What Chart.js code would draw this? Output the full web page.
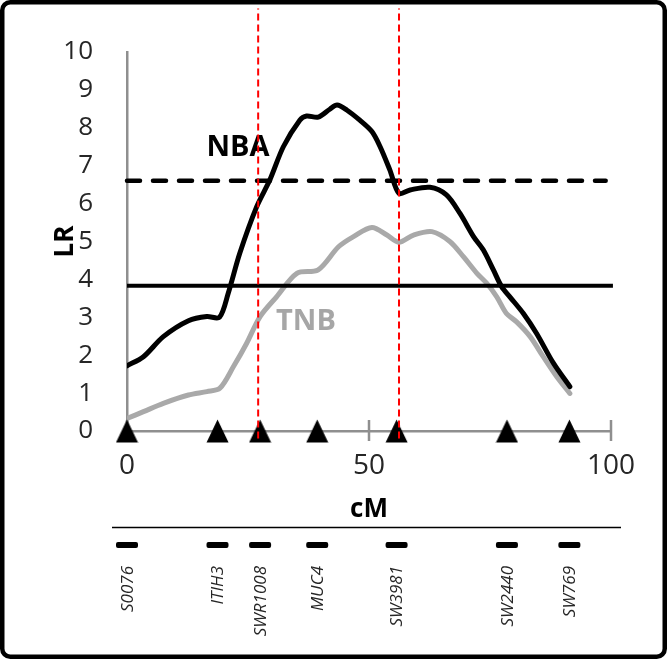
<!DOCTYPE html>
<html>
<head>
<meta charset="utf-8">
<script src="https://cdn.jsdelivr.net/npm/chart.js@4.4.1/dist/chart.umd.min.js"></script>
<style>
  html, body { margin: 0; padding: 0; background: #ffffff; }
  #wrap { position: relative; width: 667px; height: 659px; }
  canvas { display: block; }
</style>
</head>
<body>
<div id="wrap"><canvas id="c" width="667" height="659"></canvas></div>
<script>
// ---- data ----
const nbaCM = [0, 3.4, 7.5, 12.7, 16.5, 19.1, 20.9, 23.3, 26.8, 29.5, 32.3, 35.7, 37.1, 39.5, 41.9, 43.4, 45.4, 48.1, 50.6, 52.3, 54.3, 56.2, 58.5, 62.6, 66, 68.8, 71.6, 73.6, 75.7, 77.4, 79.1, 81.9, 84.6, 88.1, 91.5];
const nbaLR = [1.72, 1.96, 2.49, 2.91, 3.02, 3.0, 3.63, 4.69, 5.92, 6.62, 7.5, 8.2, 8.31, 8.28, 8.49, 8.6, 8.47, 8.2, 7.9, 7.5, 6.89, 6.27, 6.36, 6.43, 6.23, 5.74, 5.13, 4.78, 4.25, 3.81, 3.54, 3.1, 2.58, 1.79, 1.17];
const tnbCM = [0, 3.4, 7.5, 12.7, 16.5, 19.2, 22, 24.7, 27.5, 30.9, 35.1, 39.5, 43.7, 46.8, 50.6, 53.7, 56.2, 59.2, 63, 66.7, 69.5, 72.3, 74.3, 76.4, 78.4, 80.5, 83.3, 86, 88.8, 91.5];
const tnbLR = [0.33, 0.51, 0.73, 0.95, 1.04, 1.13, 1.7, 2.31, 3.02, 3.54, 4.16, 4.25, 4.86, 5.13, 5.37, 5.17, 4.98, 5.17, 5.26, 5.0, 4.6, 4.16, 3.9, 3.54, 3.1, 2.88, 2.49, 1.96, 1.43, 0.99];
const markerNames = ['S0076', 'ITIH3', 'SWR1008', 'MUC4', 'SW3981', 'SW2440', 'SW769'];
const markerCM = [0, 18.7, 27.5, 39.3, 55.7, 78.5, 91.4];
const thresholdDashed = 6.6;   // upper (dashed) threshold
const thresholdSolid = 3.83;   // lower (solid) threshold
const thresholdDashedEnd = 98.9;
const thresholdSolidEnd = 100.4;
const redLinesCM = [27.1, 56.2];
const xTicks = [0, 50, 100];
const yTicks = [0, 1, 2, 3, 4, 5, 6, 7, 8, 9, 10];
const seriesLabels = ['NBA', 'TNB'];

const FONT = "'Open Sans', 'DejaVu Sans', sans-serif";
const AXIS_GREY = '#8f8f8f';

// triangle marker image
const tri = document.createElement('canvas');
tri.width = 23; tri.height = 24;
(function () {
  const t = tri.getContext('2d');
  t.fillStyle = '#000';
  t.beginPath();
  t.moveTo(11.5, 0.5); t.lineTo(22.5, 23.5); t.lineTo(0.5, 23.5); t.closePath();
  t.fill();
})();

const zip = (xs, ys) => xs.map((x, i) => ({ x: x, y: ys[i] }));

const datasets = [];
redLinesCM.forEach(v => datasets.push({
  data: [{ x: v, y: -0.2 }, { x: v, y: 11.15 }],
  showLine: true, borderColor: '#ff0000', borderWidth: 2, borderDash: [7, 4],
  pointRadius: 0, clip: false, order: 0
}));
datasets.push({
  data: markerCM.map(x => ({ x: x, y: 0 })),
  showLine: false, pointStyle: tri, pointRadius: 11, clip: false, order: 1
});
datasets.push({
  data: [{ x: 0, y: thresholdDashed }, { x: thresholdDashedEnd, y: thresholdDashed }],
  showLine: true, borderColor: '#000', borderWidth: 4.5, borderDash: [13, 13],
  borderCapStyle: 'round', pointRadius: 0, clip: false, order: 2
});
datasets.push({
  data: [{ x: 0, y: thresholdSolid }, { x: thresholdSolidEnd, y: thresholdSolid }],
  showLine: true, borderColor: '#000', borderWidth: 4, pointRadius: 0, clip: false, order: 2
});
datasets.push({
  label: seriesLabels[0], data: zip(nbaCM, nbaLR),
  showLine: true, borderColor: '#000', borderWidth: 5, tension: 0.3,
  borderJoinStyle: 'round', borderCapStyle: 'round', pointRadius: 0, order: 3
});
datasets.push({
  label: seriesLabels[1], data: zip(tnbCM, tnbLR),
  showLine: true, borderColor: '#a9a9a9', borderWidth: 5, tension: 0.3,
  borderJoinStyle: 'round', borderCapStyle: 'round', pointRadius: 0, order: 4
});

const decor = {
  id: 'decor',
  beforeDraw(chart) {
    const ctx = chart.ctx;
    ctx.save();
    ctx.fillStyle = '#fff';
    ctx.fillRect(0, 0, chart.width, chart.height);
    ctx.restore();
  },
  beforeDatasetsDraw(chart) {
    const ctx = chart.ctx, xs = chart.scales.x, ca = chart.chartArea;
    ctx.save();
    ctx.strokeStyle = AXIS_GREY; ctx.lineWidth = 2.5;
    xTicks.forEach(v => {
      const px = Math.round(xs.getPixelForValue(v));
      ctx.beginPath(); ctx.moveTo(px, ca.bottom - 11); ctx.lineTo(px, ca.bottom + 10); ctx.stroke();
    });
    // series labels
    ctx.font = "bold 29px " + FONT;
    ctx.textAlign = 'center'; ctx.textBaseline = 'middle';
    ctx.fillStyle = '#000';
    ctx.fillText(seriesLabels[0], 238, 148);
    ctx.fillStyle = '#a6a6a6';
    ctx.fillText(seriesLabels[1], 306, 322);
    ctx.restore();
  },
  afterDraw(chart) {
    const ctx = chart.ctx, xs = chart.scales.x;
    ctx.save();
    // bottom marker map
    ctx.strokeStyle = '#000'; ctx.lineWidth = 1.5;
    ctx.beginPath(); ctx.moveTo(112, 527.5); ctx.lineTo(621, 527.5); ctx.stroke();
    markerCM.forEach((v, i) => {
      const px = xs.getPixelForValue(v);
      ctx.fillStyle = '#000';
      ctx.beginPath();
      ctx.roundRect(px - 11, 542, 22, 6, 2);
      ctx.fill();
      ctx.save();
      ctx.translate(px + 1, 566);
      ctx.rotate(-Math.PI / 2);
      ctx.font = "italic 17px " + FONT;
      ctx.fillStyle = '#262626';
      ctx.textAlign = 'right';
      ctx.textBaseline = 'middle';
      ctx.fillText(markerNames[i], 0, 0);
      ctx.restore();
    });
    // frame
    ctx.strokeStyle = '#000'; ctx.lineWidth = 4.5;
    ctx.beginPath();
    ctx.roundRect(2.25, 2.25, chart.width - 4.5, chart.height - 4.5, 8);
    ctx.stroke();
    ctx.restore();
  }
};

new Chart(document.getElementById('c'), {
  type: 'scatter',
  data: { datasets: datasets },
  options: {
    responsive: false, animation: false, devicePixelRatio: 1,
    layout: { padding: { top: 52, right: 56, bottom: 0, left: 0 } },
    plugins: { legend: { display: false }, tooltip: { enabled: false } },
    scales: {
      x: {
        type: 'linear', min: 0, max: 100,
        afterBuildTicks: s => { s.ticks = xTicks.map(v => ({ value: v })); },
        afterFit: s => { s.height = 228; },
        grid: { display: false, drawTicks: false },
        border: { display: true, color: AXIS_GREY, width: 2.5 },
        ticks: { font: { family: FONT, size: 28 }, color: '#262626', padding: 18, maxRotation: 0 },
        title: { display: true, text: 'cM', font: { family: FONT, size: 26, weight: 'bold' }, color: '#000', padding: { top: 0, bottom: 134 } }
      },
      y: {
        type: 'linear', min: 0, max: 10,
        afterBuildTicks: s => { s.ticks = yTicks.map(v => ({ value: v })); },
        afterFit: s => { s.width = 127; },
        grid: { display: false, drawTicks: false },
        border: { display: true, color: AXIS_GREY, width: 2.5 },
        ticks: { font: { family: FONT, size: 26 }, color: '#262626', padding: 34 },
        title: { display: true, text: 'LR', font: { family: FONT, size: 26, weight: 'bold' }, color: '#000', padding: { top: 50, bottom: 0 } }
      }
    }
  },
  plugins: [decor]
});
</script>
</body>
</html>
